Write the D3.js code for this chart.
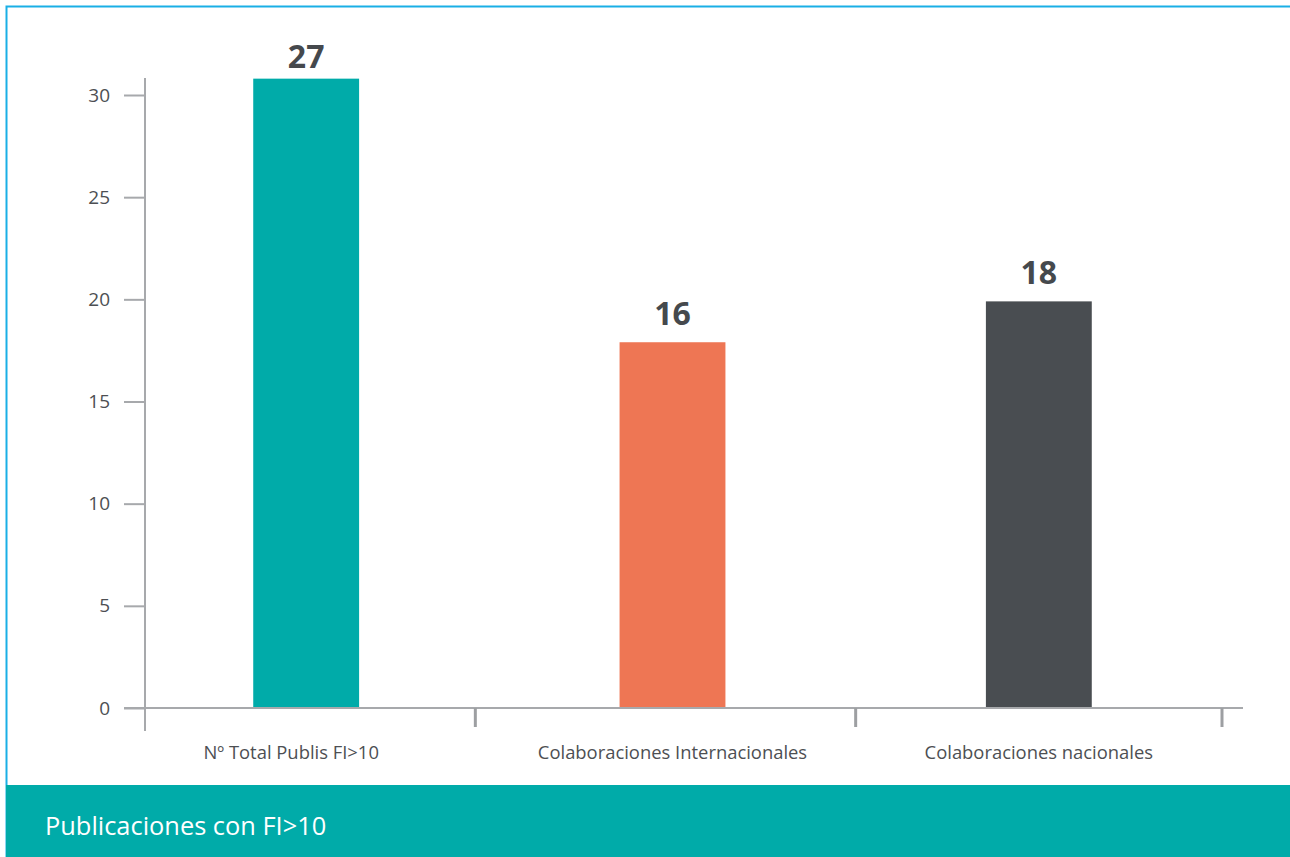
<!DOCTYPE html>
<html>
<head>
<meta charset="utf-8">
<script src="https://cdn.jsdelivr.net/npm/d3@7"></script>
<style>
html,body{margin:0;padding:0;background:#fff;}
svg{display:block;}
</style>
</head>
<body>
<svg id="chart" width="1290" height="857"></svg>
<script>
const categories = ["Nº Total Publis FI>10", "Colaboraciones Internacionales", "Colaboraciones nacionales"];
const barValues = [30.8, 17.9, 19.9];
const valueLabels = ["27", "16", "18"];
const barColors = ["#00ABA9", "#EE7654", "#494D51"];
const yTicks = [0, 5, 10, 15, 20, 25, 30];
const title = "Publicaciones con FI>10";

const svg = d3.select("#chart");
const W = 1290, H = 857;
const font = "'Open Sans', Calibri, sans-serif";

// frame
svg.append("rect").attr("x", 6.5).attr("y", 6.5).attr("width", W).attr("height", H)
  .attr("fill", "#fff").attr("stroke", "#1AAFE6").attr("stroke-width", 2);

const y = d3.scaleLinear().domain([0, 30]).range([708, 95]);
const x = d3.scaleBand().domain(categories).range([123, 1222]).paddingInner(0.711).paddingOuter(0.3555);

const axisColor = "#A7A9AC";
const textColor = "#4D4F53";
const yAxisX = 145;

// bars
svg.selectAll("rect.bar").data(categories).enter().append("rect")
  .attr("class", "bar")
  .attr("x", d => x(d))
  .attr("width", x.bandwidth())
  .attr("y", (d, i) => y(barValues[i]))
  .attr("height", (d, i) => y(0) - y(barValues[i]))
  .attr("fill", (d, i) => barColors[i]);

// y axis
const yAxis = d3.axisLeft(y).tickValues(yTicks).tickSize(21).tickPadding(14);
const gy = svg.append("g").attr("transform", `translate(${yAxisX},0)`).call(yAxis);
gy.select(".domain").remove();
gy.selectAll(".tick line").attr("stroke", axisColor).attr("stroke-width", 2);
gy.selectAll(".tick text").attr("fill", textColor).style("font-family", font).style("font-size", "19px");
svg.append("line").attr("x1", yAxisX).attr("x2", yAxisX).attr("y1", 78).attr("y2", 731)
  .attr("stroke", axisColor).attr("stroke-width", 2);

// x axis
svg.append("line").attr("x1", 124).attr("x2", 1243).attr("y1", y(0)).attr("y2", y(0))
  .attr("stroke", axisColor).attr("stroke-width", 2);
const step = x.step();
const boundaries = categories.map(c => x(c) + x.bandwidth() / 2 + step / 2);
boundaries[0] -= 14; // first divider sits a little left in the reference
svg.selectAll("line.xtick").data(boundaries).enter().append("line")
  .attr("class", "xtick")
  .attr("x1", d => d).attr("x2", d => d)
  .attr("y1", y(0)).attr("y2", y(0) + 19)
  .attr("stroke", "#9D9FA2").attr("stroke-width", 3);

svg.selectAll("text.xlab").data(categories).enter().append("text")
  .attr("class", "xlab")
  .attr("x", d => x(d) + x.bandwidth() / 2 - (d === categories[0] ? 15 : 0))
  .attr("y", 759)
  .attr("text-anchor", "middle")
  .attr("fill", textColor)
  .style("font-family", font).style("font-size", "18.4px")
  .text(d => d);

// value labels
svg.selectAll("text.vlab").data(categories).enter().append("text")
  .attr("class", "vlab")
  .attr("x", d => x(d) + x.bandwidth() / 2)
  .attr("y", (d, i) => Math.max(y(barValues[i]) - 17, 68))
  .attr("text-anchor", "middle")
  .attr("fill", "#45494D")
  .style("font-family", font).style("font-size", "32px").style("font-weight", "bold")
  .text((d, i) => valueLabels[i]);

// footer band
svg.append("rect").attr("x", 6).attr("y", 785).attr("width", W - 6).attr("height", H - 785).attr("fill", "#00ABA9");
svg.append("text").attr("x", 45).attr("y", 835)
  .attr("fill", "#fff")
  .style("font-family", font).style("font-size", "25.4px")
  .text(title);
</script>
</body>
</html>
